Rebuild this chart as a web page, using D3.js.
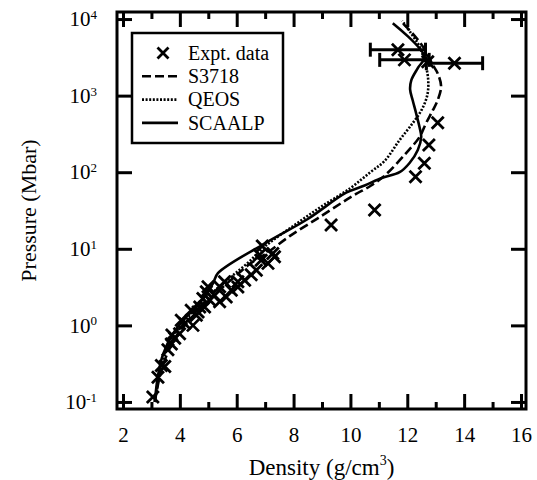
<!DOCTYPE html>
<html>
<head>
<meta charset="utf-8">
<script src="https://cdn.jsdelivr.net/npm/d3@7"></script>
<style>
body{margin:0;background:#fff}
svg text{font-family:"Liberation Serif","Times New Roman",Times,"DejaVu Serif",serif;fill:#000}
</style>
</head>
<body>
<div id="chart"></div>
<script>
// tick values
var densityTicks = [2,4,6,8,10,12,14,16]
var densityMinor = [3,5,7,9,11,13,15]
var pressureTicks = [0.1,1,10,100,1000,10000]
var pressureExp = ["-1","0","1","2","3","4"]

// experimental points (density g/cm3, pressure Mbar)
var exptDensity = [3.05,3.23,3.35,3.47,3.58,3.70,3.82,3.72,3.99,4.05,4.17,4.46,4.40,4.58,4.70,4.64,4.81,4.87,4.93,4.99,5.05,5.22,5.40,5.40,5.57,5.63,5.81,6.04,6.04,6.28,6.51,6.69,6.86,7.10,6.80,7.27,7.33,6.90,
  9.32,10.85,12.29,12.60,12.76,13.07,12.72]
var exptPressure = [0.116,0.21,0.30,0.29,0.48,0.57,0.68,0.75,0.78,1.17,1.06,1.0,1.58,1.36,1.74,1.5,2.24,1.74,2.74,3.2,2.14,2.46,2.03,3.2,3.7,2.35,2.88,3.18,3.7,3.89,4.57,5.26,7.1,6.45,8.3,8.7,7.85,10.9,
  20.4,32,87,131,226,443,2760]

// points with horizontal error bars
var barDensity = [11.67,11.9,13.66]
var barPressure = [3980,2930,2650]
var barErr = [0.97,0.87,0.99]

// model curves [density, pressure]
var s3718 = [[3.12,0.1],[3.3,0.22],[3.55,0.42],[3.9,0.75],[4.4,1.25],[4.9,1.95],[5.4,2.9],[5.95,4.4],[6.45,6.3],[7.04,8.7],[7.85,14.5],[8.85,25],[9.7,40],[10.2,52],[10.7,66],[11.2,90],[11.96,178],[12.43,288],[12.66,437],[12.9,646],[13.07,871],[13.19,1318],[13.07,1950],[12.9,2512],[12.55,4365],[12.19,6457],[11.75,9500]]
var qeos = [[3.12,0.1],[3.27,0.22],[3.48,0.42],[3.82,0.78],[4.3,1.3],[4.8,2.0],[5.3,3.0],[5.8,4.3],[6.4,6.6],[7.0,10.8],[8.0,20],[9.0,36],[10.0,62],[10.7,100],[11.2,140],[11.73,263],[12.19,437],[12.5,646],[12.7,1000],[12.74,1500],[12.66,2400],[12.43,4365],[12.14,6457],[11.82,9500]]
var scaalp = [[3.12,0.1],[3.23,0.22],[3.41,0.42],[3.76,0.78],[4.23,1.29],[4.7,1.95],[5.16,3.5],[5.34,4.8],[6.98,11.7],[8.5,24.5],[9.85,54],[10.5,67],[11.1,84],[11.73,100],[12.08,132],[12.37,195],[12.49,288],[12.43,389],[12.31,589],[12.19,871],[12.1,1200],[12.14,1585],[12.37,2290],[12.6,3240],[11.49,8840]]

var legendNames = ["Expt. data","S3718","QEOS","SCAALP"]
var legendDash = [null,"9,4","2,1.6",null]

var W = 537, H = 480
var margin = {top: 12, right: 11, bottom: 71, left: 117},
width = W - margin.left - margin.right,
height = H - margin.top - margin.bottom;
var serif = '"Liberation Serif","Times New Roman",Times,"DejaVu Serif",serif'

var root = d3.select("#chart").append("svg")
  .attr("width", W)
  .attr("height", H)
  .attr("font-family", serif)

var svg = root.append("g")
  .attr("transform", "translate(" + margin.left + "," + margin.top + ")")

var x = d3.scaleLinear().domain([1.789, 16.176]).range([0, width])
var y = d3.scaleLog().domain([Math.pow(10,-1.092), Math.pow(10,4.092)]).range([height, 0])

function styleAxis(g, fs){
  g.select(".domain").remove()
  g.selectAll(".tick line").attr("stroke","#000").attr("stroke-width",3)
  g.attr("font-family", serif).attr("font-size", fs)
}

// bottom
svg.append("g")
  .attr("transform", "translate(0," + height + ")")
  .call(d3.axisBottom(x).tickValues(densityTicks).tickSize(-15).tickPadding(18).tickFormat(d3.format("d")))
  .call(styleAxis, 21)
svg.append("g")
  .attr("transform", "translate(0," + height + ")")
  .call(d3.axisBottom(x).tickValues(densityMinor).tickSize(-7).tickFormat(""))
  .call(styleAxis, 21)
// top
svg.append("g")
  .call(d3.axisTop(x).tickValues(densityTicks).tickSize(-15).tickFormat(""))
  .call(styleAxis, 21)
svg.append("g")
  .call(d3.axisTop(x).tickValues(densityMinor).tickSize(-7).tickFormat(""))
  .call(styleAxis, 21)
// left
var yl = svg.append("g")
  .call(d3.axisLeft(y).tickValues(pressureTicks).tickSize(-15).tickPadding(20).tickFormat(""))
  .call(styleAxis, 21)
yl.selectAll(".tick text").each(function(d, i){
  var t = d3.select(this)
  t.append("tspan").text("10")
  t.append("tspan").attr("dy","-0.55em").attr("font-size","0.62em").text(pressureExp[i])
})
// right
svg.append("g")
  .attr("transform", "translate(" + width + ",0)")
  .call(d3.axisRight(y).tickValues(pressureTicks).tickSize(-15).tickFormat(""))
  .call(styleAxis, 21)

// frame
svg.append("rect")
  .attr("width", width)
  .attr("height", height)
  .attr("fill","none")
  .attr("stroke","#000")
  .attr("stroke-width",3)

// axis titles
var xt = root.append("text")
  .attr("x", margin.left + width/2)
  .attr("y", 475)
  .attr("text-anchor","middle")
  .attr("font-size",23)
xt.append("tspan").text("Density (g/cm")
xt.append("tspan").attr("dy",-10).attr("font-size",14).text("3")
xt.append("tspan").attr("dy",10).text(")")

root.append("text")
  .attr("transform","translate(36," + (margin.top + height/2) + ") rotate(-90)")
  .attr("text-anchor","middle")
  .attr("font-size",22)
  .text("Pressure (Mbar)")

// curves
var line = d3.line()
  .x(function(d){ return x(d[0]) })
  .y(function(d){ return y(d[1]) })
  .curve(d3.curveCatmullRom.alpha(0.5))

var curves = [[s3718,"9,4"],[qeos,"2,1.6"],[scaalp,null]]
curves.forEach(function(c){
  svg.append("path")
    .datum(c[0])
    .attr("d", line)
    .attr("fill","none")
    .attr("stroke","#000")
    .attr("stroke-width",2.6)
    .attr("stroke-dasharray", c[1])
})

// error bars
var eb = svg.append("g").attr("stroke","#000").attr("stroke-width",3)
barDensity.forEach(function(d, i){
  var yy = y(barPressure[i])
  eb.append("line").attr("x1", x(d - barErr[i])).attr("x2", x(d + barErr[i])).attr("y1", yy).attr("y2", yy)
  eb.append("line").attr("x1", x(d - barErr[i])).attr("x2", x(d - barErr[i])).attr("y1", yy - 7).attr("y2", yy + 7)
  eb.append("line").attr("x1", x(d + barErr[i])).attr("x2", x(d + barErr[i])).attr("y1", yy - 7).attr("y2", yy + 7)
})

function cross(g, cx, cy, s){
  g.append("path")
    .attr("d", "M" + (cx - s) + "," + (cy - s) + "L" + (cx + s) + "," + (cy + s) + "M" + (cx - s) + "," + (cy + s) + "L" + (cx + s) + "," + (cy - s))
    .attr("stroke","#000")
    .attr("stroke-width",2.8)
    .attr("fill","none")
}

var pts = svg.append("g")
exptDensity.forEach(function(d, i){ cross(pts, x(d), y(exptPressure[i]), 6) })
barDensity.forEach(function(d, i){ cross(pts, x(d), y(barPressure[i]), 6) })

// legend
var lg = svg.append("g").attr("transform","translate(15,21)")
lg.append("rect")
  .attr("width",151).attr("height",110)
  .attr("fill","#fff").attr("stroke","#000").attr("stroke-width",2.5)
legendNames.forEach(function(n, i){
  var ly = 20 + i*23.3
  if(i == 0){
    cross(lg, 31, ly, 5.5)
  } else {
    lg.append("line")
      .attr("x1",10).attr("x2",46).attr("y1",ly).attr("y2",ly)
      .attr("stroke","#000").attr("stroke-width",2.6)
      .attr("stroke-dasharray", legendDash[i])
  }
  lg.append("text")
    .attr("x",56).attr("y",ly).attr("dy","0.33em")
    .attr("font-size",20)
    .text(n)
})
</script>
</body>
</html>
